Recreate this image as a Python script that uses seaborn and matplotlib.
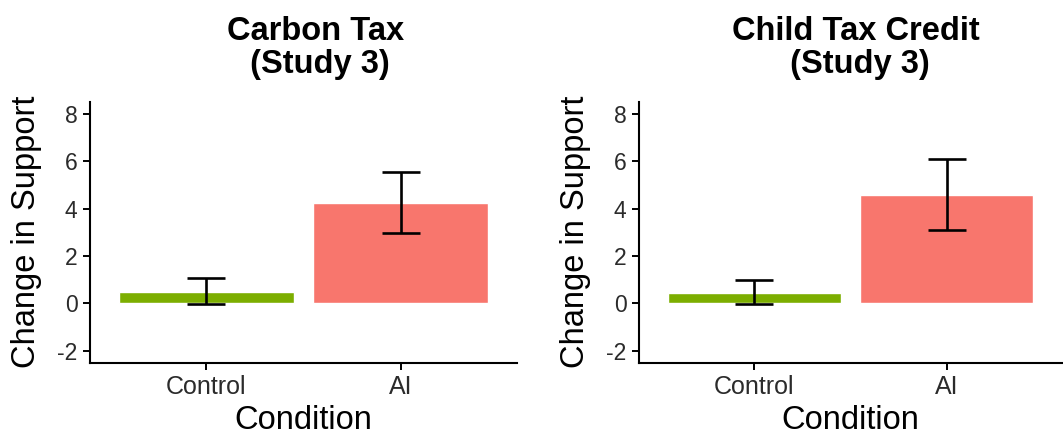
import matplotlib
matplotlib.use("Agg")
import matplotlib.pyplot as plt
import seaborn as sns
import pandas as pd

# ---- data ----
conditions = ["Control", "AI"]
carbon_mean = [0.47, 4.22]
carbon_lo = [-0.04, 2.96]
carbon_hi = [1.07, 5.52]
child_mean = [0.42, 4.58]
child_lo = [-0.04, 3.08]
child_hi = [0.99, 6.10]
titles = ["Carbon Tax\n (Study 3)", "Child Tax Credit\n (Study 3)"]
y_ticks = [-2, 0, 2, 4, 6, 8]
palette = {"Control": "#7CAE00", "AI": "#F8766D"}

sns.set_theme(style="ticks")
plt.rcParams["font.family"] = ["Liberation Sans", "DejaVu Sans"]

fig = plt.figure(figsize=(10.63, 4.37), dpi=100)
axes = [fig.add_axes([0.0847, 0.170, 0.4017, 0.597]),
        fig.add_axes([0.6011, 0.170, 0.3980, 0.597])]
title_x = [0.297, 0.805]

panels = [(carbon_mean, carbon_lo, carbon_hi), (child_mean, child_lo, child_hi)]
for ax, (means, lo, hi), title, tx in zip(axes, panels, titles, title_x):
    df = pd.DataFrame({"Condition": conditions, "Change": means})
    sns.barplot(data=df, x="Condition", y="Change", hue="Condition",
                palette=palette, order=conditions, hue_order=conditions,
                width=0.9, legend=False, ax=ax, saturation=1)
    xs = list(range(len(conditions)))
    yerr = [[m - l for m, l in zip(means, lo)], [h - m for m, h in zip(means, hi)]]
    ax.errorbar(xs, means, yerr=yerr, fmt="none", ecolor="black",
                elinewidth=1.9, capsize=13.7, capthick=1.9, zorder=5)
    ax.set_xlim(-0.6, 1.6)
    ax.set_ylim(-2.5, 8.5)
    ax.set_yticks(y_ticks)
    ax.set_yticklabels([str(t) for t in y_ticks])
    ax.set_xlabel("Condition", fontsize=23.5, color="black", labelpad=4)
    ax.set_ylabel("Change in Support", fontsize=23.5, color="black", labelpad=11)
    ax.tick_params(axis="both", colors="black", labelcolor="#2b2b2b", length=5,
                   width=1.4, direction="out", pad=4)
    ax.tick_params(axis="x", labelsize=18)
    ax.tick_params(axis="y", labelsize=16.5)
    for s in ["top", "right"]:
        ax.spines[s].set_visible(False)
    for s in ["left", "bottom"]:
        ax.spines[s].set_linewidth(1.5)
        ax.spines[s].set_color("black")
    fig.text(tx, 1 - 16 / 437, title, ha="center", va="top", fontsize=23.5,
             fontweight="bold", color="black", multialignment="center",
             linespacing=1.1)

fig.savefig("out.png", dpi=100, facecolor="white")
